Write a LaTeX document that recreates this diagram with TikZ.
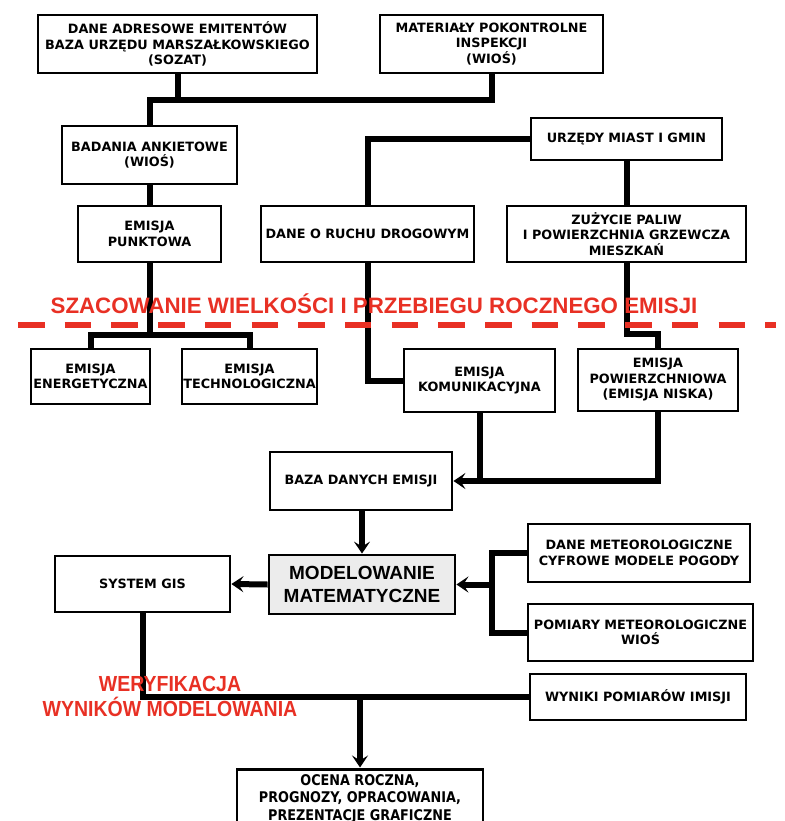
\documentclass[tikz,border=0pt]{standalone}
\usepackage{fontspec}
\setmainfont{DejaVu Sans}
\newfontfamily\arialfont{Liberation Sans}
\usetikzlibrary{arrows.meta}
\usetikzlibrary{calc}
\usetikzlibrary{positioning}
\definecolor{czerwony}{RGB}{232,48,36}
\definecolor{szary}{RGB}{236,236,236}

\begin{document}
\begin{tikzpicture}[x=1pt,y=-1pt,
    box/.style={draw, line width=2.8pt, align=center, inner sep=0pt,
      font=\fontsize{12.8}{15.5}\selectfont\bfseries},
    conn/.style={line width=6pt},
    arr/.style={-{Stealth[length=12pt,width=16pt,inset=5pt]}},
    napis/.style={text=czerwony, align=center, inner sep=0pt},
    kreski/.style={draw=czerwony, line width=6pt, dash pattern=on 26.5pt off 20.2pt}]
  \useasboundingbox (0,0) rectangle (784,821);

  % zrodla danych
  \node[box, minimum width=279pt, minimum height=58pt] (adres) at (177.5,44)
    {DANE ADRESOWE EMITENTÓW\\BAZA URZĘDU MARSZAŁKOWSKIEGO\\(SOZAT)};
  \node[box, minimum width=223pt, minimum height=58pt] (mater) at (491.5,44)
    {MATERIAŁY POKONTROLNE\\INSPEKCJI\\(WIOŚ)};
  \node[box, minimum width=175pt, minimum height=58pt] (ankiet) at (149.5,155)
    {BADANIA ANKIETOWE\\(WIOŚ)};
  \node[box, minimum width=143pt, minimum height=56pt] (punkt) at (149.5,234)
    {EMISJA\\PUNKTOWA};
  \node[box, minimum width=191pt, minimum height=42pt] (urzedy) at (626.5,139)
    {URZĘDY MIAST I GMIN};
  \node[box, minimum width=213pt, minimum height=56pt] (ruch) at (367.5,234)
    {DANE O RUCHU DROGOWYM};
  \node[box, minimum width=239pt, minimum height=56pt] (paliw) at (626.5,234)
    {ZUŻYCIE PALIW\\I POWIERZCHNIA GRZEWCZA\\MIESZKAŃ};

  % rodzaje emisji
  \node[box, minimum width=119pt, minimum height=55pt] (energ) at (90.5,376.5)
    {EMISJA\\ENERGETYCZNA};
  \node[box, minimum width=135pt, minimum height=55pt] (techn) at (249.5,376.5)
    {EMISJA\\TECHNOLOGICZNA};
  \node[box, minimum width=151pt, minimum height=63pt] (komun) at (479.5,380.5)
    {EMISJA\\KOMUNIKACYJNA};
  \node[box, minimum width=160pt, minimum height=62pt] (powierz) at (658,380)
    {EMISJA\\POWIERZCHNIOWA\\(EMISJA NISKA)};

  % modelowanie
  \node[box, minimum width=182pt, minimum height=58pt] (baza) at (361,481)
    {BAZA DANYCH EMISJI};
  \node[box, fill=szary, minimum width=186pt, minimum height=59pt,
    font=\arialfont\fontsize{19}{23}\selectfont\bfseries] (model) at (362,584.5)
    {MODELOWANIE\\MATEMATYCZNE};
  \node[box, minimum width=175pt, minimum height=56pt] (gis) at (142.5,584)
    {SYSTEM GIS};
  \node[box, minimum width=222pt, minimum height=58pt] (meteo) at (639,553)
    {DANE METEOROLOGICZNE\\CYFROWE MODELE POGODY};
  \node[box, minimum width=225pt, minimum height=57pt] (pomiary) at (640.5,632.5)
    {POMIARY METEOROLOGICZNE\\WIOŚ};
  \node[box, minimum width=216pt, minimum height=46pt] (wyniki) at (638,697)
    {WYNIKI POMIARÓW IMISJI};
  \node[box, yscale=1.15, minimum width=246pt, minimum height=52pt] (ocena) at (360,799)
    {OCENA ROCZNA,\\PROGNOZY, OPRACOWANIA,\\PREZENTACJE GRAFICZNE};

  % polaczenia
  \coordinate (j1) at (491.5,100);
  \coordinate (j2) at (149.5,335);
  \coordinate (mj) at (492,584.5);
  \draw[conn] (adres.south) -- (adres.south |- j1);
  \draw[conn] (ankiet.north) |- (j1) -- (mater.south);
  \draw[conn] (ankiet.south) -- (punkt.north);
  \draw[conn] (punkt.south) -- (j2);
  \draw[conn] (energ.north) |- (j2) -| (techn.north);
  \draw[conn] (urzedy.west) -| (ruch.north);
  \draw[conn] (urzedy.south) -- (paliw.north);
  \draw[conn] (ruch.south) |- (komun.west);
  \draw[conn] (paliw.south) -- ++(0,71) -| (powierz.north);
  \draw[conn] (komun.south) -- (komun.south |- baza.east);
  \draw[conn, arr] (powierz.south) |- (baza.east);
  \draw[conn, arr] (baza.south -| model.north) -- (model.north);
  \draw[conn, arr] (model.west) -- (gis.east);
  \draw[conn] (meteo.west) -| (mj) |- (pomiary.west);
  \draw[conn, arr] (mj) -- (model.east);
  \draw[conn] (gis.south) |- (wyniki.west);
  \draw[conn, arr] (ocena.north |- wyniki.west) -- (ocena.north);

  % napisy i linia podzialu
  \draw[kreski] (18,325) -- (776,325);
  \node[napis, font=\arialfont\fontsize{22.3}{26}\selectfont\bfseries] (szac) at (374,304)
    {SZACOWANIE WIELKOŚCI I PRZEBIEGU ROCZNEGO EMISJI};
  \node[napis, yscale=1.12, font=\arialfont\fontsize{19.5}{21.5}\selectfont\bfseries] (weryf) at (170,696.5)
    {WERYFIKACJA\\WYNIKÓW MODELOWANIA};
\end{tikzpicture}
\end{document}
